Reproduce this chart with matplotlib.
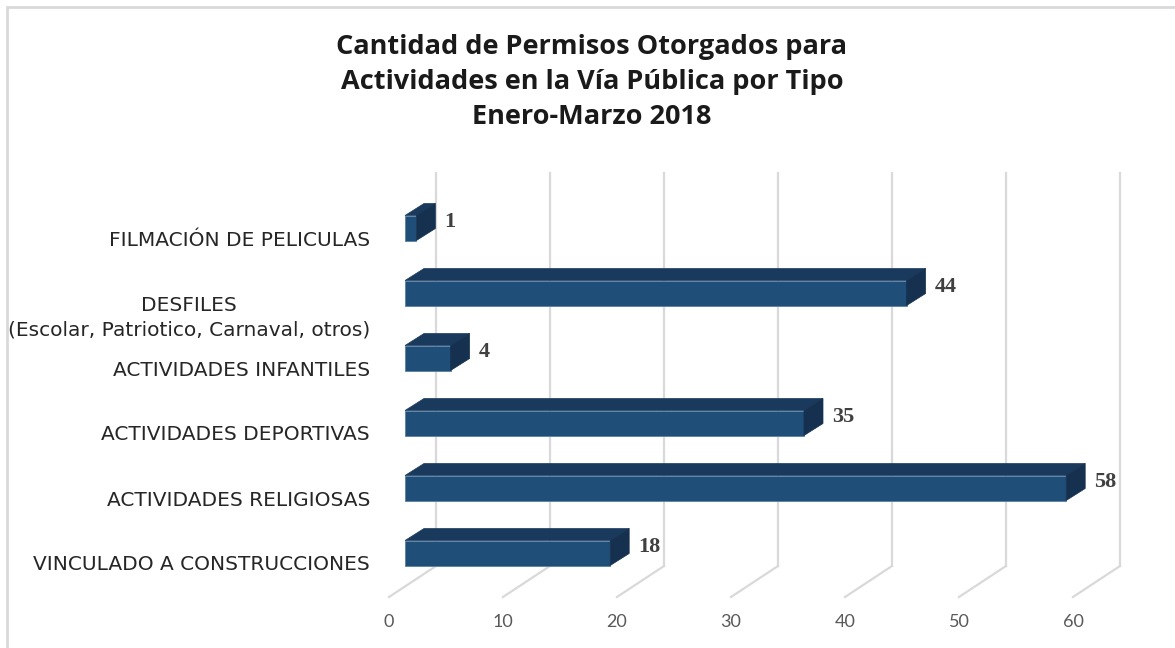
import matplotlib
matplotlib.use("Agg")
import matplotlib.pyplot as plt
from matplotlib.patches import Polygon, Rectangle

# data
categorias = [
    "FILMACIÓN DE PELICULAS",
    "DESFILES\n(Escolar, Patriotico, Carnaval, otros)",
    "ACTIVIDADES INFANTILES",
    "ACTIVIDADES DEPORTIVAS",
    "ACTIVIDADES RELIGIOSAS",
    "VINCULADO A CONSTRUCCIONES",
]
permisos = [1, 44, 4, 35, 58, 18]
ticks_x = [0, 10, 20, 30, 40, 50, 60]

titulo = ("Cantidad de Permisos Otorgados para\n"
          "Actividades en la Vía Pública por Tipo\n"
          "Enero-Marzo 2018")

W, H = 1175, 648
fig = plt.figure(figsize=(W / 100, H / 100), dpi=100)
ax = fig.add_axes([0, 0, 1, 1])

# pixel scale of the chart (value units / category units)
sx = 11.4      # px per value unit
sy = 65.0      # px per category
x0_px = 389    # floor front, value 0
y0_px = 228    # centre of first bar front face
ax.set_xlim(-x0_px / sx, (W - x0_px) / sx)
ax.set_ylim((H - y0_px) / sy, -y0_px / sy)
ax.axis("off")

def px_x(d):
    return d / sx

def px_y(d):
    return d / sy

frente = "#1F4E79"
arriba = "#1A3A5D"
lado = "#163150"
grid_c = "#d9d9d9"

# back wall gridlines and floor lines
back_dx = px_x(47)
y_floor_front = px_y(597 - y0_px)
y_floor_back = px_y(566 - y0_px)
y_wall_top = px_y(173 - y0_px)
for t in ticks_x:
    ax.plot([t + back_dx, t + back_dx], [y_floor_back, y_wall_top],
            color=grid_c, lw=1.6, zorder=1)
    ax.plot([t, t + back_dx], [y_floor_front, y_floor_back],
            color=grid_c, lw=1.6, zorder=1)
    ax.text(t, px_y(622 - y0_px), str(t), ha="center", va="center",
            fontsize=13, color="#595959", family="Lato")

# 3d bars
bx = px_x(16)
bh = px_y(25)
ddx = px_x(19)
ddy = px_y(12)
ys = list(range(len(permisos)))
ax.barh(ys, permisos, left=bx, height=bh, color=frente,
        edgecolor="#5b7fa3", linewidth=0.6, zorder=3)
for y, v in zip(ys, permisos):
    yt = y - bh / 2
    yb = y + bh / 2
    xe = bx + v
    top = Polygon([(bx, yt), (xe, yt), (xe + ddx, yt - ddy), (bx + ddx, yt - ddy)],
                  closed=True, facecolor=arriba, edgecolor=arriba, lw=0.5, zorder=3)
    side = Polygon([(xe, yt), (xe + ddx, yt - ddy), (xe + ddx, yb - ddy), (xe, yb)],
                   closed=True, facecolor=lado, edgecolor=lado, lw=0.5, zorder=3)
    ax.add_patch(top)
    ax.add_patch(side)
    ax.text(xe + ddx + px_x(9), y - px_y(6), str(v), ha="left", va="center",
            fontsize=16, fontweight="bold", color="#404040",
            family="Liberation Serif", zorder=4)

# category labels
for y, c in zip(ys, categorias):
    ax.text(px_x(370 - x0_px), y + px_y(12) + (px_y(13) if "\n" in c else 0), c,
            ha="right", va="center", multialignment="center",
            fontsize=14.5, color="#262626", family="DejaVu Sans", linespacing=1.4)

fig.text(592 / W, 1 - 82 / H, titulo, ha="center", va="center",
         fontsize=19.5, fontweight="bold", color="#1a1a1a", family="Open Sans",
         linespacing=1.45)

# outer chart border (right and bottom fall outside the picture)
fig.patches.append(Rectangle((7 / W, -0.05), 1.2, 1 - 7 / H + 0.05,
                             transform=fig.transFigure, fill=False,
                             edgecolor=grid_c, lw=2))

fig.savefig("out.png", dpi=100, facecolor="white")
